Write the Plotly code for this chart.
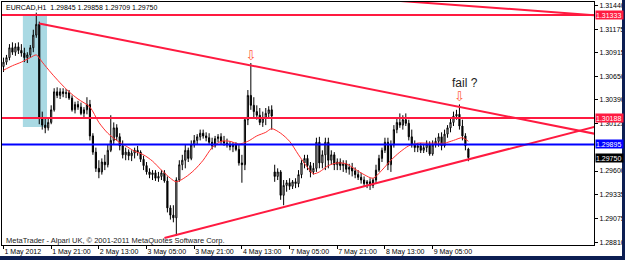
import plotly.graph_objects as go

# ---------------- data (EURCAD H1, bar index 0 = 1 May 2012 05:00) ----------------
bars = list(range(157))

open_ = [
    1.3076, 1.3081, 1.3086, 1.3097, 1.3092, 1.3098, 1.3094, 1.3091, 1.3086, 1.3089,
    1.3097, 1.3111, 1.3123, 1.3019, 1.3011, 1.3008, 1.3014, 1.3028, 1.3048, 1.3044,
    1.3048, 1.3046, 1.3047, 1.3041, 1.3028, 1.3034, 1.3031, 1.3024, 1.3028, 1.3034,
    1.2999, 1.2981, 1.2963, 1.2959, 1.2970, 1.2967, 1.2983, 1.2994, 1.3008, 1.2998,
    1.2988, 1.2978, 1.2981, 1.2977, 1.2980, 1.2983, 1.2981, 1.2973, 1.2966, 1.2959,
    1.2956, 1.2958, 1.2952, 1.2954, 1.2958, 1.2949, 1.2919, 1.2911, 1.2908, 1.2950,
    1.2967, 1.2972, 1.2983, 1.2974, 1.2989, 1.2994, 1.2998, 1.3002, 1.2999, 1.2997,
    1.2992, 1.2988, 1.2996, 1.2998, 1.2993, 1.2991, 1.2989, 1.2987, 1.2989, 1.2984,
    1.2969, 1.2967, 1.3017, 1.3044, 1.3033, 1.3026, 1.3022, 1.3014, 1.3019, 1.3024,
    1.3028, 1.2959, 1.2954, 1.2959, 1.2933, 1.2944, 1.2947, 1.2943, 1.2948, 1.2946,
    1.2956, 1.2969, 1.2974, 1.2966, 1.2959, 1.2963, 1.2992, 1.2969, 1.2978, 1.2992,
    1.2972, 1.2978, 1.2967, 1.2970, 1.2966, 1.2968, 1.2962, 1.2964, 1.2960, 1.2956,
    1.2953, 1.2950, 1.2946, 1.2948, 1.2944, 1.2950, 1.2961, 1.2974, 1.2983, 1.2992,
    1.2967, 1.2989, 1.3006, 1.3014, 1.3011, 1.3017, 1.3013, 1.2998, 1.2989, 1.2986,
    1.2988, 1.2983, 1.2986, 1.2990, 1.2979, 1.2989, 1.2993, 1.2998, 1.2988, 1.3001,
    1.3008, 1.3014, 1.3021, 1.3023, 1.3010, 1.2999, 1.29845,
]
high = [
    1.3086, 1.3089, 1.3101, 1.3103, 1.3102, 1.3103, 1.3101, 1.3097, 1.3092, 1.3100,
    1.3117, 1.3136, 1.3126, 1.3026, 1.3019, 1.3019, 1.3033, 1.3052, 1.3053, 1.3052,
    1.3052, 1.3051, 1.3050, 1.3044, 1.3037, 1.3038, 1.3036, 1.3031, 1.3042, 1.3039,
    1.3002, 1.2986, 1.2972, 1.2974, 1.2978, 1.2989, 1.3022, 1.3014, 1.3012, 1.3002,
    1.2994, 1.2986, 1.2984, 1.2983, 1.2986, 1.2988, 1.2983, 1.2977, 1.2970, 1.2963,
    1.2961, 1.2961, 1.2959, 1.2961, 1.2961, 1.2954, 1.2922, 1.2922, 1.2953, 1.2972,
    1.2978, 1.2989, 1.2986, 1.2994, 1.3000, 1.3001, 1.3006, 1.3006, 1.3003, 1.3002,
    1.2997, 1.2999, 1.3001, 1.3002, 1.2999, 1.2996, 1.2993, 1.2992, 1.2992, 1.2990,
    1.2978, 1.3019, 1.3050, 1.3080, 1.3042, 1.3033, 1.3030, 1.3026, 1.3030, 1.3032,
    1.3033, 1.2967, 1.2963, 1.2961, 1.2950, 1.2950, 1.2952, 1.2950, 1.2952, 1.2961,
    1.2972, 1.2978, 1.2978, 1.2970, 1.2969, 1.2997, 1.2998, 1.2983, 1.2997, 1.2997,
    1.2983, 1.2981, 1.2974, 1.2974, 1.2972, 1.2972, 1.2968, 1.2969, 1.2964, 1.2961,
    1.2958, 1.2954, 1.2950, 1.2952, 1.2952, 1.2967, 1.2978, 1.2986, 1.2997, 1.2997,
    1.2994, 1.3011, 1.3019, 1.3024, 1.3022, 1.3024, 1.3017, 1.3006, 1.2994, 1.2991,
    1.2991, 1.2989, 1.2994, 1.2993, 1.2994, 1.2997, 1.3002, 1.3003, 1.3006, 1.3011,
    1.3019, 1.3026, 1.3028, 1.3034, 1.3017, 1.3002, 1.29858,
]
low = [
    1.3070, 1.3078, 1.3083, 1.3089, 1.3088, 1.3090, 1.3087, 1.3081, 1.3080, 1.3086,
    1.3092, 1.3108, 1.3012, 1.3006, 1.3002, 1.3005, 1.3012, 1.3026, 1.3041, 1.3040,
    1.3042, 1.3041, 1.3039, 1.3026, 1.3024, 1.3028, 1.3022, 1.3020, 1.3023, 1.2994,
    1.2978, 1.2959, 1.2952, 1.2956, 1.2961, 1.2964, 1.2981, 1.2989, 1.2994, 1.2983,
    1.2974, 1.2972, 1.2972, 1.2971, 1.2974, 1.2977, 1.2970, 1.2961, 1.2956, 1.2952,
    1.2950, 1.2949, 1.2948, 1.2950, 1.2947, 1.2914, 1.2906, 1.2903, 1.2888, 1.2948,
    1.2961, 1.2963, 1.2970, 1.2972, 1.2986, 1.2989, 1.2994, 1.2996, 1.2993, 1.2989,
    1.2984, 1.2986, 1.2992, 1.2990, 1.2988, 1.2986, 1.2983, 1.2981, 1.2982, 1.2966,
    1.2947, 1.2961, 1.3011, 1.3028, 1.3020, 1.3017, 1.3011, 1.3009, 1.3011, 1.3019,
    1.3006, 1.2948, 1.2950, 1.2928, 1.2922, 1.2937, 1.2939, 1.2940, 1.2941, 1.2942,
    1.2952, 1.2963, 1.2961, 1.2953, 1.2956, 1.2959, 1.2963, 1.2963, 1.2961, 1.2963,
    1.2967, 1.2961, 1.2961, 1.2961, 1.2959, 1.2958, 1.2956, 1.2954, 1.2952, 1.2950,
    1.2946, 1.2943, 1.2941, 1.2939, 1.2941, 1.2946, 1.2959, 1.2970, 1.2980, 1.2961,
    1.2959, 1.2986, 1.3002, 1.3008, 1.3006, 1.3010, 1.2994, 1.2986, 1.2981, 1.2981,
    1.2980, 1.2980, 1.2981, 1.2977, 1.2977, 1.2986, 1.2987, 1.2983, 1.2986, 1.2997,
    1.3003, 1.3010, 1.3017, 1.3006, 1.2994, 1.2983, 1.29709,
]
close = [
    1.3081, 1.3086, 1.3097, 1.3092, 1.3098, 1.3094, 1.3091, 1.3086, 1.3089, 1.3097,
    1.3111, 1.3123, 1.3019, 1.3011, 1.3008, 1.3014, 1.3028, 1.3048, 1.3044, 1.3048,
    1.3046, 1.3047, 1.3041, 1.3028, 1.3034, 1.3031, 1.3024, 1.3028, 1.3034, 1.2999,
    1.2981, 1.2963, 1.2959, 1.2970, 1.2967, 1.2983, 1.2994, 1.3008, 1.2998, 1.2988,
    1.2978, 1.2981, 1.2977, 1.2980, 1.2983, 1.2981, 1.2973, 1.2966, 1.2959, 1.2956,
    1.2958, 1.2952, 1.2954, 1.2958, 1.2949, 1.2919, 1.2911, 1.2908, 1.2950, 1.2967,
    1.2972, 1.2983, 1.2974, 1.2989, 1.2994, 1.2998, 1.3002, 1.2999, 1.2997, 1.2992,
    1.2988, 1.2996, 1.2998, 1.2993, 1.2991, 1.2989, 1.2987, 1.2989, 1.2984, 1.2969,
    1.2967, 1.3017, 1.3044, 1.3033, 1.3026, 1.3022, 1.3014, 1.3019, 1.3024, 1.3028,
    1.3021, 1.2954, 1.2959, 1.2933, 1.2944, 1.2947, 1.2943, 1.2948, 1.2946, 1.2956,
    1.2969, 1.2974, 1.2966, 1.2959, 1.2963, 1.2992, 1.2969, 1.2978, 1.2992, 1.2972,
    1.2978, 1.2967, 1.2970, 1.2966, 1.2968, 1.2962, 1.2964, 1.2960, 1.2956, 1.2953,
    1.2950, 1.2946, 1.2948, 1.2944, 1.2950, 1.2961, 1.2974, 1.2983, 1.2992, 1.2967,
    1.2989, 1.3006, 1.3014, 1.3011, 1.3017, 1.3013, 1.2998, 1.2989, 1.2986, 1.2988,
    1.2983, 1.2986, 1.2990, 1.2979, 1.2989, 1.2993, 1.2998, 1.2988, 1.3001, 1.3008,
    1.3014, 1.3021, 1.3023, 1.3010, 1.2999, 1.2988, 1.29750,
]

# moving average
ma_bars = [0, 3, 6, 9, 11, 13, 16, 19, 22, 25, 29, 32, 35, 38, 41, 44, 47, 50, 53, 56,
           58, 61, 64, 67, 70, 73, 76, 79, 82, 85, 88, 90, 93, 96, 99, 102, 104, 106, 109,
           112, 115, 118, 121, 124, 127, 130, 133, 136, 139, 142, 145, 148, 151, 154, 156]
ma_vals = [1.3072, 1.3077, 1.3081, 1.3086, 1.3089, 1.3081, 1.3069, 1.3058, 1.3048, 1.3040,
           1.3031, 1.3014, 1.3002, 1.2994, 1.2988, 1.2982, 1.2978, 1.2971, 1.2961, 1.2952,
           1.2948, 1.2953, 1.2961, 1.2972, 1.2986, 1.2993, 1.2993, 1.2990, 1.2993, 1.2999,
           1.3003, 1.3007, 1.3002, 1.2993, 1.2978, 1.2964, 1.2957, 1.2959, 1.2966, 1.2969,
           1.2968, 1.2962, 1.2956, 1.2952, 1.2961, 1.2972, 1.2981, 1.2988, 1.2991, 1.2991,
           1.2991, 1.2991, 1.2994, 1.2997, 1.2993]

# x-axis labels
xtick_bars = [0, 16, 32, 48, 64, 80, 96, 112, 128, 144]
xtick_labels = ["1 May 2012", "1 May 21:00", "2 May 13:00", "3 May 05:00", "3 May 21:00",
                "4 May 13:00", "7 May 05:00", "7 May 21:00", "8 May 13:00", "9 May 05:00"]

# y-axis labels (1.29860 is hidden behind the blue price box in the original)
ytick_vals = [1.31440, 1.31175, 1.30915, 1.30650, 1.30390, 1.30125,
              1.29600, 1.29335, 1.29075, 1.28810]

# drawn objects
red_levels = [1.31333, 1.30188]
blue_levels = [1.29895]
last_price = 1.29750
down_trend_bars = [12, 199]
down_trend_prices = [1.3124, 1.30010]
up_trend_bars = [54, 199]
up_trend_prices = [1.28856, 1.30097]
upper_trend_bars = [130, 199]
upper_trend_prices = [1.31497, 1.31330]
zone_bars = [6.5, 14.6]
zone_prices = [1.30089, 1.31333]
fractal_bars = [83, 153]
note_bar, note_price, note_text = 155, 1.30578, "fail ?"

RED = "#ff1a40"
BLUE = "#0000ff"

fig = go.Figure()

# highlighted zone
fig.add_shape(type="rect", xref="x", yref="y",
              x0=zone_bars[0], x1=zone_bars[1], y0=zone_prices[0], y1=zone_prices[1],
              fillcolor="#a9d9e3", line_width=0, layer="below")

fig.add_trace(go.Candlestick(
    x=bars, open=open_, high=high, low=low, close=close,
    increasing=dict(line=dict(color="black", width=1), fillcolor="white"),
    decreasing=dict(line=dict(color="black", width=1), fillcolor="black"),
    whiskerwidth=0, showlegend=False, hoverinfo="skip"))

fig.add_trace(go.Scatter(x=ma_bars, y=ma_vals, mode="lines",
                         line=dict(color="#ff3030", width=1, shape="spline", smoothing=0.8),
                         showlegend=False, hoverinfo="skip"))

for bx, py in [(down_trend_bars, down_trend_prices), (up_trend_bars, up_trend_prices),
               (upper_trend_bars, upper_trend_prices)]:
    fig.add_trace(go.Scatter(x=bx, y=py, mode="lines", line=dict(color=RED, width=2),
                             showlegend=False, hoverinfo="skip"))

fig.add_trace(go.Scatter(x=fractal_bars, y=[high[b] for b in fractal_bars], mode="text",
                         text=["⇩"] * len(fractal_bars), textposition="top center",
                         textfont=dict(color="#ff5a3c", size=13, family="DejaVu Sans"),
                         showlegend=False, hoverinfo="skip", cliponaxis=False))

for lv in red_levels:
    fig.add_shape(type="line", xref="paper", yref="y", x0=0, x1=1, y0=lv, y1=lv,
                  line=dict(color=RED, width=2), layer="above")
for lv in blue_levels:
    fig.add_shape(type="line", xref="paper", yref="y", x0=0, x1=1, y0=lv, y1=lv,
                  line=dict(color=BLUE, width=2), layer="above")

# price boxes on the right axis
boxes = [(red_levels[0], RED), (red_levels[1], RED), (blue_levels[0], BLUE), (last_price, "black")]
for lv, col in boxes:
    fig.add_annotation(x=1, xref="paper", xanchor="left", xshift=1, y=lv, yref="y",
                       text=f"{lv:.5f}", showarrow=False, bgcolor=col, borderpad=0,
                       width=27, height=8, align="left",
                       font=dict(color="white", size=7, family="Liberation Sans"))

fig.add_annotation(x=note_bar, y=note_price, xref="x", yref="y", text=note_text,
                   showarrow=False, font=dict(color="#222222", size=12, family="Liberation Sans"))

fig.add_annotation(x=0.004, y=0.979, xref="paper", yref="paper", xanchor="left", yanchor="middle",
                   text="EURCAD,H1  1.29845 1.29858 1.29709 1.29750", showarrow=False,
                   font=dict(color="black", size=7, family="Liberation Sans"))
fig.add_annotation(x=0.004, y=0.018, xref="paper", yref="paper", xanchor="left", yanchor="middle",
                   text="MetaTrader - Alpari UK, © 2001-2011 MetaQuotes Software Corp.",
                   showarrow=False, font=dict(color="#222222", size=7.5, family="Liberation Sans"))

# window border (dark navy)
fig.add_shape(type="rect", xref="paper", yref="paper", x0=1.0473, x1=1.07, y0=-0.1, y1=1.02,
              fillcolor="#0c1e52", line_width=0, layer="above")
fig.add_shape(type="rect", xref="paper", yref="paper", x0=-0.01, x1=1.07, y0=-0.1, y1=-0.0455,
              fillcolor="#0c1e52", line_width=0, layer="above")

fig.update_layout(
    width=625, height=260, margin=dict(l=2, r=31, t=2, b=15, autoexpand=False),
    paper_bgcolor="white", plot_bgcolor="white", boxgap=0.45,
    showlegend=False,
    xaxis=dict(range=[-0.503, 198.15], tickvals=xtick_bars, ticktext=xtick_labels,
               ticks="outside", ticklen=3, tickcolor="black", ticklabelposition="outside right",
               tickangle=0, automargin=False,
               tickfont=dict(size=7, color="black", family="Liberation Sans"),
               showgrid=False, zeroline=False, showline=True, linecolor="black", linewidth=1,
               mirror=True, rangeslider=dict(visible=False)),
    yaxis=dict(range=[1.28778, 1.31478], side="right", tickvals=ytick_vals,
               ticktext=[f"{v:.5f}" for v in ytick_vals], automargin=False,
               ticks="outside", ticklen=3, tickcolor="black",
               tickfont=dict(size=7, color="black", family="Liberation Sans"),
               showgrid=False, zeroline=False, showline=True, linecolor="black", linewidth=1,
               mirror=True),
)

fig.write_html("out.html")
